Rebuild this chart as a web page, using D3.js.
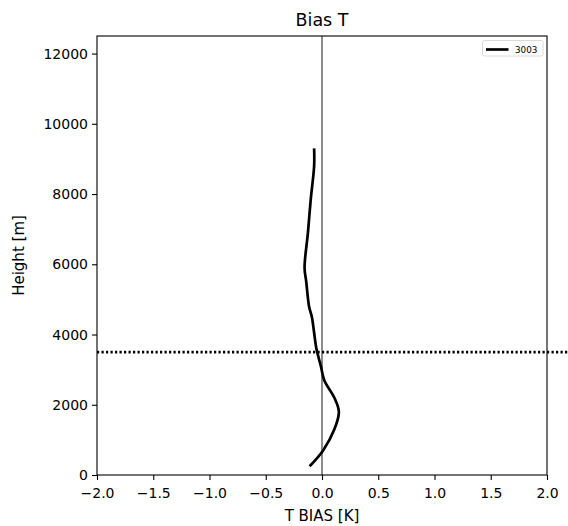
<!DOCTYPE html>
<html><head><meta charset="utf-8">
<script src="https://cdn.jsdelivr.net/npm/d3@7"></script>
<style>body{margin:0;background:#fff}svg{display:block}text{font-family:"DejaVu Sans",sans-serif;fill:#000}</style>
</head><body>
<script>
const heights = [250, 700, 1300, 1800, 2200, 2700, 3100, 3600, 4050, 4500, 4800, 5500, 5900, 6900, 7850, 8800, 9300];
const bias    = [-0.11, 0.01, 0.11, 0.15, 0.11, 0.02, -0.01, -0.05, -0.07, -0.09, -0.115, -0.14, -0.155, -0.125, -0.10, -0.07, -0.07];
const xTicks = [-2.0, -1.5, -1.0, -0.5, 0.0, 0.5, 1.0, 1.5, 2.0];
const yTicks = [0, 2000, 4000, 6000, 8000, 10000, 12000];
const refHeight = 3500;
const seriesName = "3003";

const W = 568, H = 526;
const m = {l: 97, r: 547, t: 36, b: 475};
const svg = d3.select("body").append("svg").attr("width", W).attr("height", H);
const x = d3.scaleLinear().domain([-2, 2]).range([m.l, m.r]);
const y = d3.scaleLinear().domain([0, 12500]).range([m.b, m.t]);

// zero line
svg.append("line").attr("x1", x(0)).attr("x2", x(0)).attr("y1", m.t).attr("y2", m.b)
  .attr("stroke", "#808080").attr("stroke-width", 1.8);

// profile
svg.append("path").datum(heights.map((h, i) => [bias[i], h]))
  .attr("fill", "none").attr("stroke", "#000").attr("stroke-width", 2.7)
  .attr("stroke-linejoin", "round")
  .attr("d", d3.line().x(d => x(d[0])).y(d => y(d[1])).curve(d3.curveCatmullRom));

// dotted ref line (extends past axes)
svg.append("line").attr("x1", m.l).attr("x2", W).attr("y1", y(refHeight)).attr("y2", y(refHeight))
  .attr("stroke", "#000").attr("stroke-width", 2.6).attr("stroke-dasharray", "2.2,2.3");

// frame
svg.append("rect").attr("x", m.l).attr("y", m.t).attr("width", m.r - m.l).attr("height", m.b - m.t)
  .attr("fill", "none").attr("stroke", "#000").attr("stroke-width", 1.1);

// axes
const xa = svg.append("g").attr("transform", `translate(0,${m.b})`)
  .call(d3.axisBottom(x).tickValues(xTicks).tickSize(5).tickPadding(3)
    .tickFormat(d => d3.format(".1f")(d).replace("-", "\u2212")));
const ya = svg.append("g").attr("transform", `translate(${m.l},0)`)
  .call(d3.axisLeft(y).tickValues(yTicks).tickSize(5).tickPadding(4).tickFormat(d3.format("d")));
[xa, ya].forEach(a => {
  a.select(".domain").remove();
  a.selectAll("text").style("font-size", "14px").style("font-family", "DejaVu Sans").attr("fill", "#000");
  a.selectAll("line").attr("stroke", "#000").attr("stroke-width", 1.1);
});
xa.selectAll("text").attr("dy", null).attr("y", 23);

// labels
svg.append("text").attr("x", (m.l + m.r) / 2).attr("y", 26).attr("text-anchor", "middle")
  .style("font-size", "17.5px").text("Bias T");
svg.append("text").attr("x", (m.l + m.r) / 2).attr("y", 521).attr("text-anchor", "middle")
  .style("font-size", "15px").text("T BIAS [K]");
svg.append("text").attr("transform", `translate(24,${(m.t + m.b) / 2}) rotate(-90)`).attr("text-anchor", "middle")
  .style("font-size", "15px").text("Height [m]");

// legend
const lg = svg.append("g");
lg.append("rect").attr("x", 482.5).attr("y", 40.5).attr("width", 60.5).attr("height", 15.5).attr("rx", 2)
  .attr("fill", "#fff").attr("stroke", "#d0d0d0").attr("stroke-width", 0.8);
lg.append("line").attr("x1", 486).attr("x2", 508.5).attr("y1", 49.5).attr("y2", 49.5)
  .attr("stroke", "#000").attr("stroke-width", 2.7);
lg.append("text").attr("x", 515).attr("y", 52.5).style("font-size", "8.8px").text(seriesName);
</script>
</body></html>
